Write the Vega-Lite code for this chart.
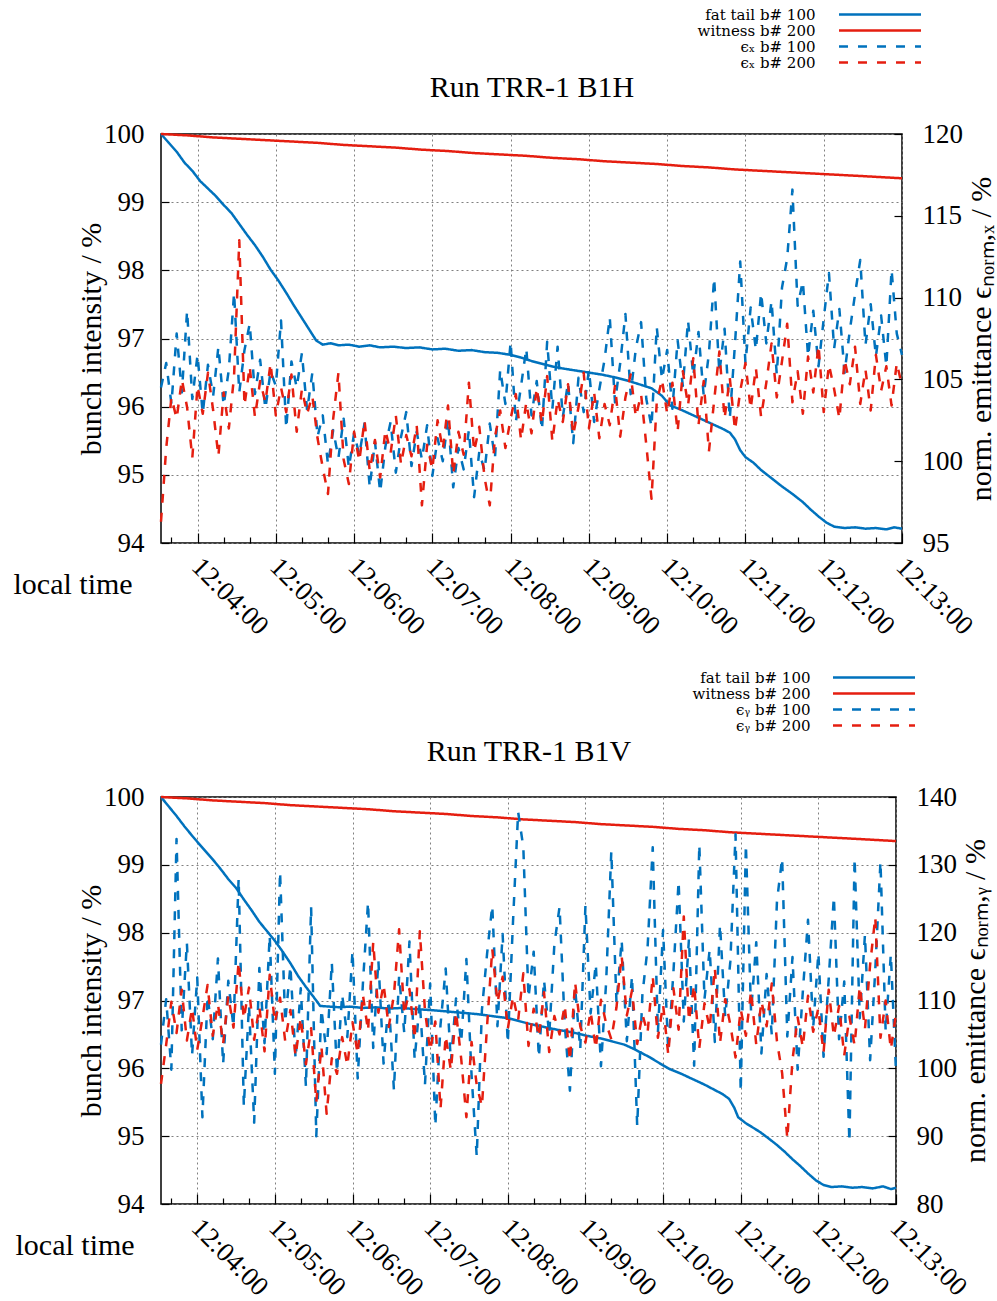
{
"$schema": "https://vega.github.io/schema/vega-lite/v6.json",
"padding": {"left": 12, "top": 6, "right": 5, "bottom": 2},
"config": {
  "font": "Liberation Serif",
  "view": {"stroke": "black", "strokeWidth": 1.5},
  "axis": {"labelFont": "Liberation Serif", "labelFontSize": 27, "labelColor": "black", "titleFont": "Liberation Serif", "titleFontSize": 30, "titleFontWeight": "normal", "titleColor": "black", "tickColor": "black", "tickWidth": 1.2, "domain": false, "grid": false, "labelFlush": false, "labelOverlap": false},
  "legend": {"labelFont": "DejaVu Serif", "labelFontSize": 15, "labelColor": "black"}
},
"resolve": {"scale": {"color": "independent", "strokeDash": "independent", "x": "independent"}, "legend": {"color": "independent", "strokeDash": "independent"}},
"spacing": 28,
"vconcat": [
{"resolve": {"scale": {"color": "independent", "strokeDash": "independent", "x": "independent"}, "legend": {"color": "independent", "strokeDash": "independent"}},
 "hconcat": [
{
  "width": 741, "height": 409,
  "encoding": {
    "color": {"field": "s", "type": "nominal", "scale": {"domain": ["f", "w", "a", "b"], "range": ["#0072bd", "#e51e10", "#0072bd", "#e51e10"]},
      "legend": {"orient": "none", "legendX": 711.5, "legendY": -127, "title": null, "symbolType": "M-8.2,0H8.2", "symbolSize": 100, "symbolStrokeWidth": 2.5, "labelAlign": "right", "labelOffset": -72, "rowPadding": 0,
        "labelExpr": "datum.value == 'f' ? 'fat tail b# 100' : datum.value == 'w' ? 'witness b# 200' : datum.value == 'a' ? 'ϵₓ b# 100' : 'ϵₓ b# 200'"}},
    "strokeDash": {"field": "s", "type": "nominal", "scale": {"domain": ["f", "w", "a", "b"], "range": [[1, 0], [1, 0], [9, 10], [9, 10]]},
      "legend": {"orient": "none", "legendX": 711.5, "legendY": -127, "title": null, "symbolType": "M-8.2,0H8.2", "symbolSize": 100, "symbolStrokeWidth": 2.5, "labelAlign": "right", "labelOffset": -72, "rowPadding": 0,
        "labelExpr": "datum.value == 'f' ? 'fat tail b# 100' : datum.value == 'w' ? 'witness b# 200' : datum.value == 'a' ? 'ϵₓ b# 100' : 'ϵₓ b# 200'"}}
  },
  "layer": [
    {
      "data": {"values": [
        {"t":212,"s":"f","v":100.00},{"t":218,"s":"f","v":99.87},{"t":224,"s":"f","v":99.74},{"t":230,"s":"f","v":99.58},{"t":236,"s":"f","v":99.46},{"t":242,"s":"f","v":99.31},{"t":248,"s":"f","v":99.20},{"t":254,"s":"f","v":99.09},{"t":260,"s":"f","v":98.96},{"t":266,"s":"f","v":98.84},{"t":272,"s":"f","v":98.68},{"t":278,"s":"f","v":98.52},{"t":284,"s":"f","v":98.37},{"t":290,"s":"f","v":98.20},{"t":296,"s":"f","v":98.01},{"t":302,"s":"f","v":97.85},{"t":308,"s":"f","v":97.67},{"t":314,"s":"f","v":97.48},{"t":320,"s":"f","v":97.30},{"t":326,"s":"f","v":97.12},{"t":331,"s":"f","v":96.97},{"t":336,"s":"f","v":96.91},{"t":342,"s":"f","v":96.93},{"t":348,"s":"f","v":96.90},{"t":356,"s":"f","v":96.91},{"t":364,"s":"f","v":96.88},{"t":372,"s":"f","v":96.90},{"t":380,"s":"f","v":96.87},{"t":390,"s":"f","v":96.88},{"t":400,"s":"f","v":96.86},{"t":410,"s":"f","v":96.87},{"t":420,"s":"f","v":96.84},{"t":430,"s":"f","v":96.85},{"t":440,"s":"f","v":96.82},{"t":450,"s":"f","v":96.83},{"t":460,"s":"f","v":96.80},{"t":470,"s":"f","v":96.79},{"t":480,"s":"f","v":96.76},{"t":488,"s":"f","v":96.72},{"t":496,"s":"f","v":96.67},{"t":504,"s":"f","v":96.63},{"t":512,"s":"f","v":96.59},{"t":520,"s":"f","v":96.56},{"t":530,"s":"f","v":96.53},{"t":540,"s":"f","v":96.50},{"t":550,"s":"f","v":96.47},{"t":560,"s":"f","v":96.43},{"t":570,"s":"f","v":96.38},{"t":580,"s":"f","v":96.32},{"t":588,"s":"f","v":96.27},{"t":596,"s":"f","v":96.16},{"t":602,"s":"f","v":96.02},{"t":610,"s":"f","v":95.96},{"t":618,"s":"f","v":95.89},{"t":626,"s":"f","v":95.82},{"t":634,"s":"f","v":95.75},{"t":642,"s":"f","v":95.68},{"t":648,"s":"f","v":95.62},{"t":652,"s":"f","v":95.52},{"t":656,"s":"f","v":95.36},{"t":660,"s":"f","v":95.26},{"t":666,"s":"f","v":95.18},{"t":672,"s":"f","v":95.07},{"t":680,"s":"f","v":94.95},{"t":688,"s":"f","v":94.83},{"t":696,"s":"f","v":94.72},{"t":704,"s":"f","v":94.60},{"t":710,"s":"f","v":94.49},{"t":716,"s":"f","v":94.39},{"t":722,"s":"f","v":94.30},{"t":728,"s":"f","v":94.24},{"t":736,"s":"f","v":94.22},{"t":744,"s":"f","v":94.23},{"t":752,"s":"f","v":94.21},{"t":760,"s":"f","v":94.22},{"t":768,"s":"f","v":94.20},{"t":774,"s":"f","v":94.23},{"t":780,"s":"f","v":94.21},
        {"t":212,"s":"w","v":100.00},{"t":232,"s":"w","v":99.98},{"t":252,"s":"w","v":99.95},{"t":272,"s":"w","v":99.93},{"t":292,"s":"w","v":99.91},{"t":312,"s":"w","v":99.89},{"t":332,"s":"w","v":99.87},{"t":352,"s":"w","v":99.84},{"t":372,"s":"w","v":99.82},{"t":392,"s":"w","v":99.80},{"t":412,"s":"w","v":99.77},{"t":432,"s":"w","v":99.75},{"t":452,"s":"w","v":99.72},{"t":472,"s":"w","v":99.70},{"t":492,"s":"w","v":99.68},{"t":512,"s":"w","v":99.65},{"t":532,"s":"w","v":99.63},{"t":552,"s":"w","v":99.60},{"t":572,"s":"w","v":99.58},{"t":592,"s":"w","v":99.56},{"t":612,"s":"w","v":99.53},{"t":632,"s":"w","v":99.51},{"t":652,"s":"w","v":99.48},{"t":672,"s":"w","v":99.46},{"t":692,"s":"w","v":99.44},{"t":712,"s":"w","v":99.42},{"t":732,"s":"w","v":99.40},{"t":752,"s":"w","v":99.38},{"t":780,"s":"w","v":99.35}
      ]},
      "mark": {"type": "line", "strokeWidth": 2.5, "strokeJoin": "round"},
      "encoding": {
        "x": {"field": "t", "type": "quantitative", "scale": {"domain": [212, 780], "nice": false, "zero": false},
          "axis": {"values": [220,240,260,280,300,320,340,360,380,400,420,440,460,480,500,520,540,560,580,600,620,640,660,680,700,720,740,760,780],
            "labelExpr": "datum.value % 60 === 0 ? '12:' + (datum.value / 60 < 10 ? '0' : '') + (datum.value / 60) + ':00' : ''",
            "labelAngle": 45, "labelAlign": "left", "labelBaseline": "top", "labelPadding": 20, "labelOffset": 7,
            "tickSize": {"condition": {"test": "datum.value % 60 === 0", "value": -10}, "value": -6},
            "grid": true, "gridDash": [2, 3], "gridColor": "#808080", "gridWidth": 1,
            "gridOpacity": {"condition": {"test": "datum.value % 60 === 0", "value": 1}, "value": 0},
            "title": "local time", "titleX": -148, "titleY": 41, "titleAlign": "left", "titleBaseline": "middle", "titleAngle": 0}},
        "y": {"field": "v", "type": "quantitative", "scale": {"domain": [94, 100], "nice": false, "zero": false},
        "axis": {"values": [94, 95, 96, 97, 98, 99, 100], "grid": true, "gridDash": [2, 3], "gridColor": "#808080", "gridWidth": 1, "tickSize": -8, "labelPadding": 25,
          "title": "bunch intensity / %", "titleX": -70, "titleY": 204.5, "titleAngle": -90, "titleAlign": "center", "titleBaseline": "middle"}}}
    },
    {
      "data": {"values": [
        {"t":212,"a":104.5,"b":96.3},{"t":216,"a":106.0,"b":100.8},{"t":220,"a":103.5,"b":103.9},{"t":224,"a":107.8,"b":102.6},{"t":228,"a":104.2,"b":105.0},{"t":232,"a":109.2,"b":103.3},{"t":236,"a":103.8,"b":100.2},{"t":240,"a":106.5,"b":104.6},{"t":244,"a":102.9,"b":102.9},{"t":248,"a":105.9,"b":105.4},{"t":252,"a":104.0,"b":103.1},{"t":256,"a":107.0,"b":100.3},{"t":260,"a":103.4,"b":104.2},{"t":264,"a":105.6,"b":102.0},{"t":268,"a":110.3,"b":105.2},{"t":272,"a":104.2,"b":113.5},{"t":276,"a":106.8,"b":103.4},{"t":280,"a":108.4,"b":105.8},{"t":284,"a":104.1,"b":102.7},{"t":288,"a":106.2,"b":104.9},{"t":292,"a":103.2,"b":103.6},{"t":296,"a":105.5,"b":106.0},{"t":300,"a":104.6,"b":102.8},{"t":304,"a":108.6,"b":104.5},{"t":308,"a":102.0,"b":103.0},{"t":312,"a":106.1,"b":105.3},{"t":316,"a":104.5,"b":101.8},{"t":320,"a":106.6,"b":104.4},{"t":324,"a":103.1,"b":102.9},{"t":328,"a":105.4,"b":104.0},{"t":332,"a":101.5,"b":101.4},{"t":336,"a":102.8,"b":99.6},{"t":340,"a":99.8,"b":98.0},{"t":344,"a":101.9,"b":102.6},{"t":348,"a":100.2,"b":105.4},{"t":352,"a":102.6,"b":100.1},{"t":356,"a":99.6,"b":98.6},{"t":360,"a":101.7,"b":101.8},{"t":364,"a":100.4,"b":100.0},{"t":368,"a":102.3,"b":102.5},{"t":372,"a":98.4,"b":99.4},{"t":376,"a":101.2,"b":101.3},{"t":380,"a":98.1,"b":99.0},{"t":384,"a":100.9,"b":101.9},{"t":388,"a":102.4,"b":100.5},{"t":392,"a":99.3,"b":102.8},{"t":396,"a":101.5,"b":99.8},{"t":400,"a":103.0,"b":101.6},{"t":404,"a":99.7,"b":100.3},{"t":408,"a":101.8,"b":102.2},{"t":412,"a":100.1,"b":97.3},{"t":416,"a":102.2,"b":101.0},{"t":420,"a":99.1,"b":99.5},{"t":424,"a":101.4,"b":102.5},{"t":428,"a":100.0,"b":100.7},{"t":432,"a":102.6,"b":103.4},{"t":436,"a":98.4,"b":99.2},{"t":440,"a":100.8,"b":101.8},{"t":444,"a":99.5,"b":100.4},{"t":448,"a":101.9,"b":104.8},{"t":452,"a":97.8,"b":100.6},{"t":456,"a":100.6,"b":102.1},{"t":460,"a":99.4,"b":99.0},{"t":464,"a":102.3,"b":97.3},{"t":468,"a":100.2,"b":101.5},{"t":472,"a":105.6,"b":103.1},{"t":476,"a":103.5,"b":100.8},{"t":480,"a":107.3,"b":102.6},{"t":484,"a":102.4,"b":104.1},{"t":488,"a":104.6,"b":101.3},{"t":492,"a":106.9,"b":103.6},{"t":496,"a":102.8,"b":101.7},{"t":500,"a":104.9,"b":104.5},{"t":504,"a":101.9,"b":102.3},{"t":508,"a":107.3,"b":105.2},{"t":512,"a":103.2,"b":101.2},{"t":516,"a":107.0,"b":103.8},{"t":520,"a":102.7,"b":102.4},{"t":524,"a":104.8,"b":104.7},{"t":528,"a":101.1,"b":101.6},{"t":532,"a":105.1,"b":103.3},{"t":536,"a":103.0,"b":105.4},{"t":540,"a":105.6,"b":102.0},{"t":544,"a":102.4,"b":104.2},{"t":548,"a":104.4,"b":101.4},{"t":552,"a":106.2,"b":103.5},{"t":556,"a":108.8,"b":102.2},{"t":560,"a":103.6,"b":104.6},{"t":564,"a":106.0,"b":101.5},{"t":568,"a":109.0,"b":103.9},{"t":572,"a":104.1,"b":105.3},{"t":576,"a":106.9,"b":102.7},{"t":580,"a":108.5,"b":104.1},{"t":584,"a":103.8,"b":101.0},{"t":588,"a":102.1,"b":97.7},{"t":592,"a":108.2,"b":103.6},{"t":596,"a":105.0,"b":105.0},{"t":600,"a":106.8,"b":102.9},{"t":604,"a":103.2,"b":104.8},{"t":608,"a":107.4,"b":101.8},{"t":612,"a":104.6,"b":105.5},{"t":616,"a":108.6,"b":103.4},{"t":620,"a":105.2,"b":106.3},{"t":624,"a":107.9,"b":102.2},{"t":628,"a":104.0,"b":104.9},{"t":632,"a":106.6,"b":100.6},{"t":636,"a":111.2,"b":103.7},{"t":640,"a":105.4,"b":106.7},{"t":644,"a":108.1,"b":102.6},{"t":648,"a":102.6,"b":105.1},{"t":652,"a":107.2,"b":101.9},{"t":656,"a":112.2,"b":104.3},{"t":660,"a":106.0,"b":106.0},{"t":664,"a":109.4,"b":103.2},{"t":668,"a":106.8,"b":105.7},{"t":672,"a":110.3,"b":102.7},{"t":676,"a":107.2,"b":104.8},{"t":680,"a":109.8,"b":107.2},{"t":684,"a":105.3,"b":103.9},{"t":688,"a":110.6,"b":106.1},{"t":692,"a":112.4,"b":108.4},{"t":696,"a":116.6,"b":103.6},{"t":700,"a":109.5,"b":105.5},{"t":704,"a":111.0,"b":102.9},{"t":708,"a":106.4,"b":106.4},{"t":712,"a":109.2,"b":104.2},{"t":716,"a":105.8,"b":107.1},{"t":720,"a":108.7,"b":103.0},{"t":724,"a":111.5,"b":105.9},{"t":728,"a":106.9,"b":104.4},{"t":732,"a":109.3,"b":102.6},{"t":736,"a":105.4,"b":106.2},{"t":740,"a":108.0,"b":104.7},{"t":744,"a":110.2,"b":107.0},{"t":748,"a":112.3,"b":103.5},{"t":752,"a":107.1,"b":105.6},{"t":756,"a":109.6,"b":103.1},{"t":760,"a":106.4,"b":106.5},{"t":764,"a":108.9,"b":104.3},{"t":768,"a":105.8,"b":105.8},{"t":772,"a":111.7,"b":103.4},{"t":776,"a":107.8,"b":106.0},{"t":780,"a":106.5,"b":104.6}
      ]},
      "transform": [{"fold": ["a", "b"], "as": ["s", "v"]}],
      "mark": {"type": "line", "strokeWidth": 2.5, "strokeJoin": "round"},
      "encoding": {
        "x": {"field": "t", "type": "quantitative", "scale": {"domain": [212, 780], "nice": false, "zero": false},
          "axis": {"orient": "top", "title": "Run TRR-1 B1H", "labels": false, "ticks": false, "domain": false, "grid": false, "titleFontSize": 30, "titleX": 370.5, "titleY": -47, "titleAlign": "center", "titleBaseline": "middle", "titleAngle": 0}},
        "y": {"field": "v", "type": "quantitative", "scale": {"domain": [95, 120], "nice": false, "zero": false},
        "axis": {"orient": "right", "values": [95, 100, 105, 110, 115, 120], "tickSize": -8, "labelPadding": 28,
          "title": "norm. emittance ϵₙₒᵣₘ,ₓ / %", "titleX": 79, "titleY": 204.5, "titleAngle": -90, "titleAlign": "center", "titleBaseline": "middle"}}}
    }
  ],
  "resolve": {"scale": {"y": "independent"}, "axis": {"x": "independent"}}
}
]},
{"resolve": {"scale": {"color": "independent", "strokeDash": "independent", "x": "independent"}, "legend": {"color": "independent", "strokeDash": "independent"}},
 "hconcat": [
{
  "width": 735, "height": 407,
  "encoding": {
    "color": {"field": "s", "type": "nominal", "scale": {"domain": ["f", "w", "a", "b"], "range": ["#0072bd", "#e51e10", "#0072bd", "#e51e10"]},
      "legend": {"orient": "none", "legendX": 705.5, "legendY": -127, "title": null, "symbolType": "M-8.2,0H8.2", "symbolSize": 100, "symbolStrokeWidth": 2.5, "labelAlign": "right", "labelOffset": -71, "rowPadding": 0,
        "labelExpr": "datum.value == 'f' ? 'fat tail b# 100' : datum.value == 'w' ? 'witness b# 200' : datum.value == 'a' ? 'ϵᵧ b# 100' : 'ϵᵧ b# 200'"}},
    "strokeDash": {"field": "s", "type": "nominal", "scale": {"domain": ["f", "w", "a", "b"], "range": [[1, 0], [1, 0], [9, 10], [9, 10]]},
      "legend": {"orient": "none", "legendX": 705.5, "legendY": -127, "title": null, "symbolType": "M-8.2,0H8.2", "symbolSize": 100, "symbolStrokeWidth": 2.5, "labelAlign": "right", "labelOffset": -71, "rowPadding": 0,
        "labelExpr": "datum.value == 'f' ? 'fat tail b# 100' : datum.value == 'w' ? 'witness b# 200' : datum.value == 'a' ? 'ϵᵧ b# 100' : 'ϵᵧ b# 200'"}}
  },
  "layer": [
    {
      "data": {"values": [
        {"t":212,"s":"f","v":100.00},{"t":218,"s":"f","v":99.86},{"t":224,"s":"f","v":99.72},{"t":230,"s":"f","v":99.57},{"t":236,"s":"f","v":99.43},{"t":240,"s":"f","v":99.34},{"t":246,"s":"f","v":99.21},{"t":252,"s":"f","v":99.08},{"t":258,"s":"f","v":98.94},{"t":264,"s":"f","v":98.79},{"t":270,"s":"f","v":98.66},{"t":276,"s":"f","v":98.49},{"t":282,"s":"f","v":98.33},{"t":288,"s":"f","v":98.16},{"t":294,"s":"f","v":98.02},{"t":300,"s":"f","v":97.88},{"t":306,"s":"f","v":97.72},{"t":312,"s":"f","v":97.55},{"t":318,"s":"f","v":97.36},{"t":324,"s":"f","v":97.20},{"t":330,"s":"f","v":97.05},{"t":335,"s":"f","v":96.92},{"t":342,"s":"f","v":96.91},{"t":350,"s":"f","v":96.90},{"t":358,"s":"f","v":96.91},{"t":368,"s":"f","v":96.89},{"t":378,"s":"f","v":96.90},{"t":388,"s":"f","v":96.88},{"t":398,"s":"f","v":96.89},{"t":410,"s":"f","v":96.87},{"t":420,"s":"f","v":96.86},{"t":432,"s":"f","v":96.84},{"t":444,"s":"f","v":96.82},{"t":456,"s":"f","v":96.80},{"t":468,"s":"f","v":96.77},{"t":480,"s":"f","v":96.74},{"t":490,"s":"f","v":96.69},{"t":498,"s":"f","v":96.65},{"t":508,"s":"f","v":96.61},{"t":518,"s":"f","v":96.57},{"t":530,"s":"f","v":96.53},{"t":541,"s":"f","v":96.48},{"t":552,"s":"f","v":96.44},{"t":562,"s":"f","v":96.39},{"t":570,"s":"f","v":96.35},{"t":578,"s":"f","v":96.28},{"t":584,"s":"f","v":96.22},{"t":590,"s":"f","v":96.16},{"t":596,"s":"f","v":96.09},{"t":605,"s":"f","v":95.99},{"t":614,"s":"f","v":95.92},{"t":623,"s":"f","v":95.84},{"t":632,"s":"f","v":95.76},{"t":640,"s":"f","v":95.68},{"t":646,"s":"f","v":95.62},{"t":651,"s":"f","v":95.55},{"t":655,"s":"f","v":95.42},{"t":658,"s":"f","v":95.28},{"t":664,"s":"f","v":95.19},{"t":670,"s":"f","v":95.12},{"t":675,"s":"f","v":95.06},{"t":682,"s":"f","v":94.96},{"t":688,"s":"f","v":94.87},{"t":694,"s":"f","v":94.77},{"t":700,"s":"f","v":94.66},{"t":706,"s":"f","v":94.56},{"t":712,"s":"f","v":94.45},{"t":718,"s":"f","v":94.35},{"t":724,"s":"f","v":94.28},{"t":730,"s":"f","v":94.25},{"t":738,"s":"f","v":94.26},{"t":746,"s":"f","v":94.24},{"t":754,"s":"f","v":94.25},{"t":762,"s":"f","v":94.23},{"t":770,"s":"f","v":94.26},{"t":776,"s":"f","v":94.22},{"t":780,"s":"f","v":94.24},
        {"t":212,"s":"w","v":100.00},{"t":232,"s":"w","v":99.98},{"t":252,"s":"w","v":99.95},{"t":272,"s":"w","v":99.93},{"t":292,"s":"w","v":99.91},{"t":312,"s":"w","v":99.88},{"t":332,"s":"w","v":99.86},{"t":352,"s":"w","v":99.84},{"t":372,"s":"w","v":99.82},{"t":392,"s":"w","v":99.79},{"t":412,"s":"w","v":99.77},{"t":432,"s":"w","v":99.75},{"t":452,"s":"w","v":99.72},{"t":472,"s":"w","v":99.70},{"t":492,"s":"w","v":99.67},{"t":512,"s":"w","v":99.65},{"t":532,"s":"w","v":99.63},{"t":552,"s":"w","v":99.60},{"t":572,"s":"w","v":99.58},{"t":592,"s":"w","v":99.56},{"t":612,"s":"w","v":99.53},{"t":632,"s":"w","v":99.51},{"t":652,"s":"w","v":99.48},{"t":672,"s":"w","v":99.46},{"t":692,"s":"w","v":99.44},{"t":712,"s":"w","v":99.42},{"t":732,"s":"w","v":99.40},{"t":752,"s":"w","v":99.38},{"t":780,"s":"w","v":99.35}
      ]},
      "mark": {"type": "line", "strokeWidth": 2.5, "strokeJoin": "round"},
      "encoding": {
        "x": {"field": "t", "type": "quantitative", "scale": {"domain": [212, 780], "nice": false, "zero": false},
          "axis": {"values": [220,240,260,280,300,320,340,360,380,400,420,440,460,480,500,520,540,560,580,600,620,640,660,680,700,720,740,760,780],
            "labelExpr": "datum.value % 60 === 0 ? '12:' + (datum.value / 60 < 10 ? '0' : '') + (datum.value / 60) + ':00' : ''",
            "labelAngle": 45, "labelAlign": "left", "labelBaseline": "top", "labelPadding": 20, "labelOffset": 7,
            "tickSize": {"condition": {"test": "datum.value % 60 === 0", "value": -10}, "value": -6},
            "grid": true, "gridDash": [2, 3], "gridColor": "#808080", "gridWidth": 1,
            "gridOpacity": {"condition": {"test": "datum.value % 60 === 0", "value": 1}, "value": 0},
            "title": "local time", "titleX": -146, "titleY": 41, "titleAlign": "left", "titleBaseline": "middle", "titleAngle": 0}},
        "y": {"field": "v", "type": "quantitative", "scale": {"domain": [94, 100], "nice": false, "zero": false},
        "axis": {"values": [94, 95, 96, 97, 98, 99, 100], "grid": true, "gridDash": [2, 3], "gridColor": "#808080", "gridWidth": 1, "tickSize": -8, "labelPadding": 25,
          "title": "bunch intensity / %", "titleX": -70, "titleY": 203.5, "titleAngle": -90, "titleAlign": "center", "titleBaseline": "middle"}}}
    },
    {
      "data": {"values": [
        {"t":212,"a":103.5,"b":97.7},{"t":216,"a":110.2,"b":103.5},{"t":220,"a":99.8,"b":109.8},{"t":224,"a":133.8,"b":105.2},{"t":228,"a":105.6,"b":111.6},{"t":232,"a":118.5,"b":104.1},{"t":236,"a":101.9,"b":108.9},{"t":240,"a":113.4,"b":102.7},{"t":244,"a":92.8,"b":107.4},{"t":248,"a":110.7,"b":112.3},{"t":252,"a":104.3,"b":104.8},{"t":256,"a":116.2,"b":109.5},{"t":260,"a":100.6,"b":103.6},{"t":264,"a":112.9,"b":110.7},{"t":268,"a":106.1,"b":106.0},{"t":272,"a":128.0,"b":115.7},{"t":276,"a":94.4,"b":107.3},{"t":280,"a":109.3,"b":111.9},{"t":284,"a":92.0,"b":104.2},{"t":288,"a":114.8,"b":109.1},{"t":292,"a":103.7,"b":102.5},{"t":296,"a":119.6,"b":113.8},{"t":300,"a":99.2,"b":106.7},{"t":304,"a":129.0,"b":110.4},{"t":308,"a":106.8,"b":104.0},{"t":312,"a":115.1,"b":108.6},{"t":316,"a":101.4,"b":101.8},{"t":320,"a":111.8,"b":107.5},{"t":324,"a":97.3,"b":100.6},{"t":328,"a":123.8,"b":105.9},{"t":332,"a":90.0,"b":95.0},{"t":336,"a":108.7,"b":103.2},{"t":340,"a":102.1,"b":93.3},{"t":344,"a":115.6,"b":101.5},{"t":348,"a":99.4,"b":99.2},{"t":352,"a":110.9,"b":104.6},{"t":356,"a":104.6,"b":100.4},{"t":360,"a":117.3,"b":106.8},{"t":364,"a":98.5,"b":102.1},{"t":368,"a":112.4,"b":110.9},{"t":372,"a":124.5,"b":105.5},{"t":376,"a":103.0,"b":118.6},{"t":380,"a":115.9,"b":108.2},{"t":384,"a":100.7,"b":112.4},{"t":388,"a":110.1,"b":106.1},{"t":392,"a":96.8,"b":110.8},{"t":396,"a":113.6,"b":120.5},{"t":400,"a":105.2,"b":107.9},{"t":404,"a":118.7,"b":111.7},{"t":408,"a":101.3,"b":104.3},{"t":412,"a":109.8,"b":120.2},{"t":416,"a":97.6,"b":108.5},{"t":420,"a":112.5,"b":102.6},{"t":424,"a":91.5,"b":106.9},{"t":428,"a":106.4,"b":94.0},{"t":432,"a":114.7,"b":104.8},{"t":436,"a":100.9,"b":99.7},{"t":440,"a":110.3,"b":108.3},{"t":444,"a":103.8,"b":101.4},{"t":448,"a":116.1,"b":92.8},{"t":452,"a":99.0,"b":103.9},{"t":456,"a":87.0,"b":97.5},{"t":460,"a":108.6,"b":94.4},{"t":464,"a":116.9,"b":106.3},{"t":468,"a":124.0,"b":117.6},{"t":472,"a":106.2,"b":109.7},{"t":476,"a":119.8,"b":113.5},{"t":480,"a":103.7,"b":105.8},{"t":484,"a":121.5,"b":110.6},{"t":488,"a":137.8,"b":107.1},{"t":492,"a":132.6,"b":114.0},{"t":496,"a":110.4,"b":103.3},{"t":500,"a":117.2,"b":108.8},{"t":504,"a":101.6,"b":104.6},{"t":508,"a":113.0,"b":111.2},{"t":512,"a":104.9,"b":102.4},{"t":516,"a":118.3,"b":107.7},{"t":520,"a":123.8,"b":105.0},{"t":524,"a":106.5,"b":109.3},{"t":528,"a":96.7,"b":101.1},{"t":532,"a":111.9,"b":112.7},{"t":536,"a":102.8,"b":106.2},{"t":540,"a":124.0,"b":103.8},{"t":544,"a":108.1,"b":108.4},{"t":548,"a":115.4,"b":102.9},{"t":552,"a":100.3,"b":110.1},{"t":556,"a":112.7,"b":106.6},{"t":560,"a":132.0,"b":104.3},{"t":564,"a":109.6,"b":109.0},{"t":568,"a":118.9,"b":116.6},{"t":572,"a":104.0,"b":107.8},{"t":576,"a":113.6,"b":111.5},{"t":580,"a":91.5,"b":103.6},{"t":584,"a":110.8,"b":108.0},{"t":588,"a":117.7,"b":105.2},{"t":592,"a":132.6,"b":113.6},{"t":596,"a":105.3,"b":104.5},{"t":600,"a":120.4,"b":109.4},{"t":604,"a":102.5,"b":102.0},{"t":608,"a":114.2,"b":111.8},{"t":612,"a":127.6,"b":105.7},{"t":616,"a":106.9,"b":122.4},{"t":620,"a":119.1,"b":107.0},{"t":624,"a":100.4,"b":112.3},{"t":628,"a":133.0,"b":103.0},{"t":632,"a":110.2,"b":109.6},{"t":636,"a":117.5,"b":105.9},{"t":640,"a":103.9,"b":114.8},{"t":644,"a":121.2,"b":103.7},{"t":648,"a":107.6,"b":110.2},{"t":652,"a":115.8,"b":106.4},{"t":656,"a":134.5,"b":101.6},{"t":660,"a":96.5,"b":108.7},{"t":664,"a":133.0,"b":104.8},{"t":668,"a":108.3,"b":111.4},{"t":672,"a":118.6,"b":103.5},{"t":676,"a":102.2,"b":109.9},{"t":680,"a":113.9,"b":106.2},{"t":684,"a":105.0,"b":112.5},{"t":688,"a":124.6,"b":104.0},{"t":692,"a":131.0,"b":99.3},{"t":696,"a":104.7,"b":89.6},{"t":700,"a":116.4,"b":101.2},{"t":704,"a":99.8,"b":107.5},{"t":708,"a":111.3,"b":103.1},{"t":712,"a":121.9,"b":110.7},{"t":716,"a":106.0,"b":105.4},{"t":720,"a":117.0,"b":108.9},{"t":724,"a":101.7,"b":102.3},{"t":728,"a":113.2,"b":111.6},{"t":732,"a":125.3,"b":104.7},{"t":736,"a":104.3,"b":109.2},{"t":740,"a":112.8,"b":101.9},{"t":744,"a":89.1,"b":107.6},{"t":748,"a":131.0,"b":103.4},{"t":752,"a":107.4,"b":112.1},{"t":756,"a":119.7,"b":105.8},{"t":760,"a":101.2,"b":115.3},{"t":764,"a":114.6,"b":122.3},{"t":768,"a":130.5,"b":104.5},{"t":772,"a":105.5,"b":110.0},{"t":776,"a":116.8,"b":102.8},{"t":780,"a":99.6,"b":108.1}
      ]},
      "transform": [{"fold": ["a", "b"], "as": ["s", "v"]}],
      "mark": {"type": "line", "strokeWidth": 2.5, "strokeJoin": "round"},
      "encoding": {
        "x": {"field": "t", "type": "quantitative", "scale": {"domain": [212, 780], "nice": false, "zero": false},
          "axis": {"orient": "top", "title": "Run TRR-1 B1V", "labels": false, "ticks": false, "domain": false, "grid": false, "titleFontSize": 30, "titleX": 367.5, "titleY": -46, "titleAlign": "center", "titleBaseline": "middle", "titleAngle": 0}},
        "y": {"field": "v", "type": "quantitative", "scale": {"domain": [80, 140], "nice": false, "zero": false},
        "axis": {"orient": "right", "values": [80, 90, 100, 110, 120, 130, 140], "tickSize": -8, "labelPadding": 28,
          "title": "norm. emittance ϵₙₒᵣₘ,ᵧ / %", "titleX": 79, "titleY": 203.5, "titleAngle": -90, "titleAlign": "center", "titleBaseline": "middle"}}}
    }
  ],
  "resolve": {"scale": {"y": "independent"}, "axis": {"x": "independent"}}
}
]}
]
}
